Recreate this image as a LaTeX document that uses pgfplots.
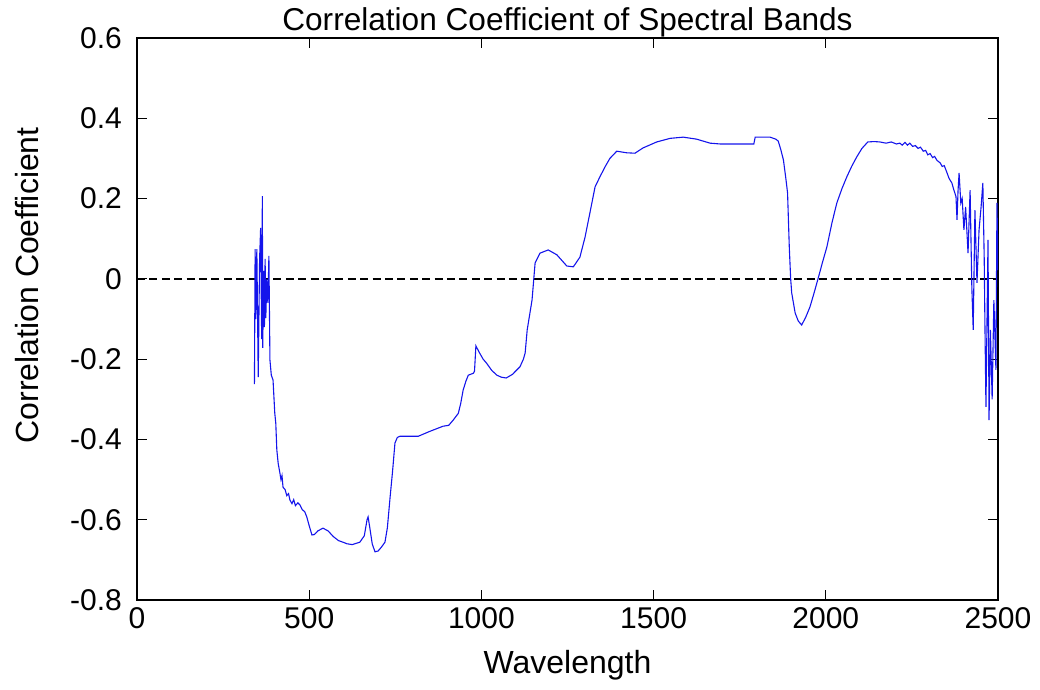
\documentclass[border=0pt]{standalone}
\usepackage{fontspec}
\setmainfont{Liberation Sans}
\usepackage{pgfplots}
\pgfplotsset{compat=1.18}
\begin{document}
\begin{tikzpicture}
\begin{axis}[
  scale only axis,
  width=430.5pt, height=281pt,
  xmin=0, xmax=2500, ymin=-0.8, ymax=0.6,
  xtick={0,500,1000,1500,2000,2500},
  xticklabels={0,500,1000,1500,2000,2500},
  ytick={-0.8,-0.6,-0.4,-0.2,0,0.2,0.4,0.6},
  yticklabels={-0.8,-0.6,-0.4,-0.2,0,0.2,0.4,0.6},
  tick align=inside,
  major tick length=5pt,
  tick style={black, line width=0.5pt},
  axis line style={black, line width=0.6pt},
  ticklabel style={font=\fontsize{15}{18}\selectfont},
  yticklabel style={xshift=-4pt},
  every axis title shift=0pt,
  title={Correlation Coefficient of Spectral Bands},
  title style={font=\fontsize{15.8}{18}\selectfont, at={(axis description cs:0.5,1)}, anchor=center, yshift=8pt},
  xlabel={Wavelength},
  xlabel style={font=\fontsize{16}{19}\selectfont, at={(axis description cs:0.5,0)}, anchor=center, yshift=-32.5pt},
  ylabel={Correlation Coefficient},
  ylabel style={font=\fontsize{16}{19}\selectfont, at={(axis description cs:-0.1278,0.56)}, anchor=center},
  clip=true,
]
\addplot[black, dashed, line width=0.9pt, dash pattern=on 4pt off 2.2pt, forget plot] coordinates {(0,0) (2500,0)};
\addplot[color={rgb,255:red,20;green,20;blue,235}, line width=0.55pt] coordinates {
(341,-0.262) (343,0.074) (345,-0.10) (348,0.074) (352,-0.245) (356,0.05) (359,0.127) (362,-0.15)
(364,0.206) (365,-0.172) (368,0.02) (370,-0.12) (372,0.05) (374,-0.098) (377,0.0) (380,-0.06)
(383,0.057) (386,-0.202) (390,-0.24) (395,-0.252) (400,-0.334) (403,-0.36) (406,-0.426) (410,-0.46)
(415,-0.484) (418,-0.50) (421,-0.49) (424,-0.519) (430,-0.525) (435,-0.54) (440,-0.535) (444,-0.551)
(450,-0.56) (455,-0.55) (460,-0.565) (467,-0.558) (473,-0.563) (480,-0.575) (487,-0.58) (493,-0.593)
(500,-0.615) (508,-0.638) (515,-0.637) (525,-0.628) (540,-0.621) (555,-0.628) (570,-0.642) (585,-0.652)
(598,-0.656) (610,-0.66) (625,-0.662) (647,-0.656) (660,-0.64) (668,-0.60) (671,-0.593) (676,-0.62)
(683,-0.66) (691,-0.68) (700,-0.678) (710,-0.668) (720,-0.656) (727,-0.62) (735,-0.543) (742,-0.48)
(749,-0.409) (756,-0.395) (764,-0.392) (817,-0.392) (850,-0.38) (889,-0.367) (905,-0.365) (918,-0.352)
(933,-0.335) (940,-0.31) (947,-0.277) (955,-0.255) (962,-0.24) (977,-0.235) (980,-0.23) (984,-0.167)
(995,-0.185) (1005,-0.2) (1015,-0.21) (1030,-0.228) (1045,-0.24) (1058,-0.245) (1072,-0.247) (1090,-0.238)
(1112,-0.219) (1122,-0.2) (1127,-0.185) (1133,-0.127) (1140,-0.09) (1147,-0.053) (1156,0.04) (1170,0.064)
(1194,0.072) (1219,0.06) (1248,0.032) (1267,0.03) (1286,0.054) (1301,0.104) (1315,0.164) (1330,0.229)
(1344,0.254) (1359,0.279) (1373,0.30) (1393,0.318) (1422,0.314) (1446,0.313) (1469,0.326) (1509,0.341)
(1548,0.35) (1586,0.353) (1625,0.348) (1664,0.338) (1693,0.336) (1750,0.336) (1791,0.336)
(1795,0.353) (1838,0.353) (1855,0.348) (1862,0.343) (1870,0.32) (1877,0.296) (1884,0.25) (1889,0.214)
(1894,0.079) (1898,0.0) (1901,-0.035) (1911,-0.085) (1920,-0.105) (1930,-0.115) (1942,-0.095) (1954,-0.07)
(1966,-0.035) (1979,0.005) (1990,0.04) (2003,0.079) (2018,0.14) (2032,0.189) (2047,0.225) (2061,0.254)
(2075,0.28) (2090,0.304) (2105,0.325) (2122,0.341) (2140,0.342) (2157,0.341) (2175,0.338) (2190,0.341)
(2205,0.336) (2215,0.338) (2222,0.333) (2230,0.34) (2237,0.333) (2244,0.338) (2252,0.33) (2260,0.332)
(2268,0.325) (2275,0.328) (2283,0.318) (2290,0.32) (2296,0.309) (2303,0.312) (2310,0.302) (2316,0.305)
(2323,0.295) (2332,0.289) (2338,0.28) (2344,0.282) (2352,0.264) (2358,0.25) (2366,0.239) (2372,0.221)
(2378,0.205) (2381,0.147) (2384,0.22) (2387,0.264) (2392,0.189) (2396,0.2) (2401,0.122) (2406,0.179)
(2413,0.064) (2419,0.221) (2424,-0.02) (2428,-0.127) (2433,0.171) (2439,-0.01) (2445,0.122) (2451,0.18)
(2456,0.239) (2460,0.05) (2462,-0.11) (2465,-0.319) (2471,0.097) (2474,-0.352) (2478,-0.127) (2483,-0.30)
(2488,-0.053) (2494,-0.227) (2497,0.189) (2500,0.022)
};
\end{axis}
\pgfresetboundingbox
\path (-68.5pt,-45pt) rectangle (451.5pt,300pt);
\end{tikzpicture}
\end{document}
